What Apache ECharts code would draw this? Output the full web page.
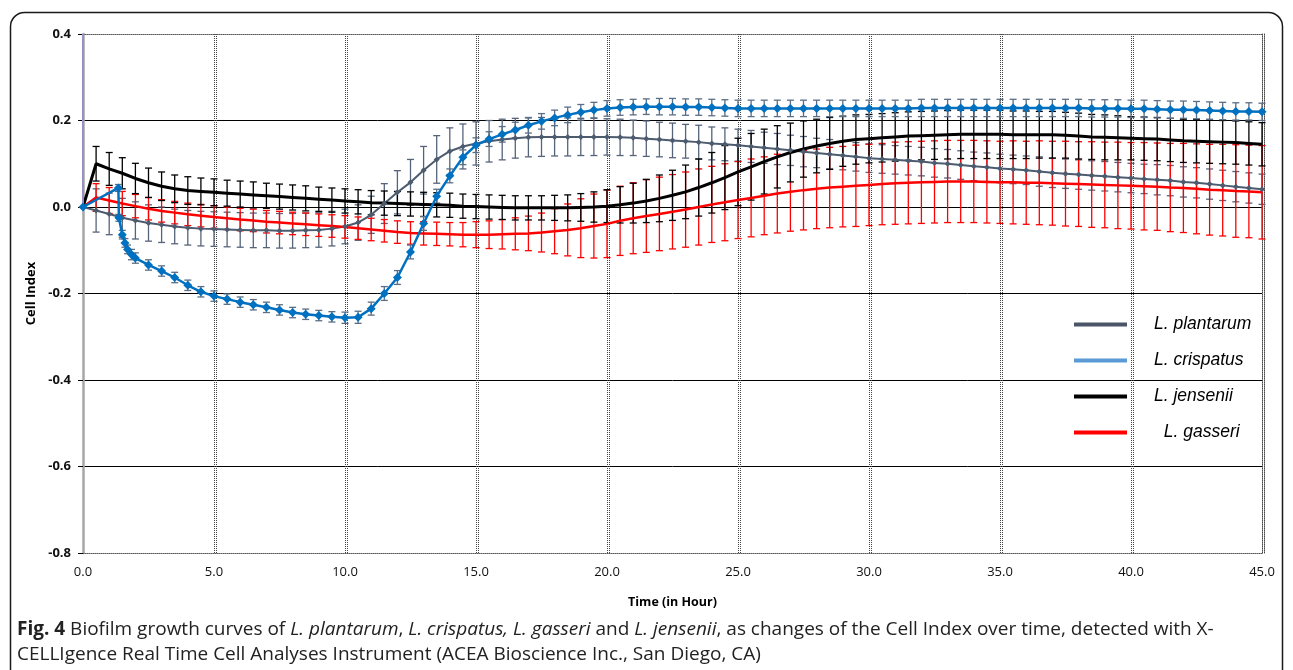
<!DOCTYPE html>
<html>
<head>
<meta charset="utf-8">
<script src="https://cdn.jsdelivr.net/npm/echarts@6/dist/echarts.min.js"></script>
<style>
html,body{margin:0;padding:0;background:#fff;}
#main{width:1293px;height:670px;}
</style>
</head>
<body>
<div id="main"></div>
<script>
// readings every 30 min, 0 - 45 h
var hours = [];
for (var i = 0; i <= 90; i++) { hours.push(i / 2); }

var seriesNames = ['L. plantarum', 'L. crispatus', 'L. jensenii', 'L. gasseri'];

var plantarum = [
	0, -0.008, -0.016, -0.025, -0.031, -0.037, -0.041, -0.045, -0.048, -0.050,
	-0.051, -0.052, -0.053, -0.054, -0.054, -0.055, -0.055, -0.054, -0.053, -0.050,
	-0.045, -0.036, -0.018, 0.008, 0.034, 0.057, 0.085, 0.110, 0.129, 0.140,
	0.147, 0.152, 0.156, 0.159, 0.161, 0.162, 0.162, 0.162, 0.162, 0.162,
	0.162, 0.161, 0.160, 0.158, 0.156, 0.154, 0.152, 0.150, 0.147, 0.145,
	0.143, 0.140, 0.137, 0.134, 0.131, 0.128, 0.125, 0.122, 0.119, 0.116,
	0.113, 0.111, 0.109, 0.107, 0.105, 0.102, 0.100, 0.097, 0.094, 0.092,
	0.089, 0.087, 0.085, 0.082, 0.079, 0.077, 0.075, 0.073, 0.071, 0.069,
	0.067, 0.065, 0.063, 0.061, 0.058, 0.056, 0.053, 0.050, 0.047, 0.044,
	0.041
];
var plantarumErr = [
	0, 0.050, 0.048, 0.045, 0.043, 0.042, 0.041, 0.040, 0.040, 0.040,
	0.040, 0.040, 0.040, 0.040, 0.040, 0.040, 0.040, 0.040, 0.040, 0.040,
	0.040, 0.041, 0.043, 0.046, 0.050, 0.053, 0.055, 0.055, 0.054, 0.052,
	0.050, 0.048, 0.047, 0.046, 0.045, 0.045, 0.044, 0.044, 0.043, 0.043,
	0.042, 0.042, 0.041, 0.041, 0.040, 0.040, 0.039, 0.039, 0.038, 0.038,
	0.037, 0.037, 0.036, 0.036, 0.035, 0.035, 0.034, 0.034, 0.033, 0.033,
	0.033, 0.033, 0.033, 0.033, 0.033, 0.033, 0.033, 0.033, 0.033, 0.033,
	0.033, 0.033, 0.033, 0.034, 0.034, 0.034, 0.034, 0.034, 0.034, 0.034,
	0.034, 0.034, 0.035, 0.035, 0.035, 0.035, 0.035, 0.035, 0.035, 0.035,
	0.035
];

// crispatus: first readings are irregular, then every 30 min from 2.5 h
var crispatusEarlyHours = [0, 1.35, 1.37, 1.5, 1.6, 1.7, 1.85, 2.0];
var crispatusEarly = [0, 0.044, -0.025, -0.064, -0.083, -0.098, -0.110, -0.118];
var crispatusEarlyErr = [0, 0.008, 0.008, 0.010, 0.010, 0.010, 0.012, 0.012];
var crispatus = [
	-0.134, -0.148, -0.163, -0.181, -0.196,
	-0.206, -0.213, -0.220, -0.226, -0.232, -0.238, -0.244, -0.248, -0.251, -0.254,
	-0.256, -0.255, -0.235, -0.200, -0.163, -0.104, -0.038, 0.025, 0.072, 0.115,
	0.143, 0.157, 0.168, 0.178, 0.189, 0.198, 0.206, 0.213, 0.219, 0.224,
	0.228, 0.230, 0.231, 0.232, 0.232, 0.232, 0.231, 0.231, 0.230, 0.229,
	0.228, 0.228, 0.228, 0.228, 0.228, 0.228, 0.228, 0.228, 0.228, 0.228,
	0.228, 0.228, 0.228, 0.228, 0.229, 0.229, 0.229, 0.229, 0.229, 0.229,
	0.229, 0.229, 0.229, 0.229, 0.229, 0.229, 0.229, 0.228, 0.228, 0.228,
	0.227, 0.227, 0.226, 0.225, 0.225, 0.224, 0.223, 0.222, 0.221, 0.221,
	0.220
];
var crispatusErr = [
	0.012, 0.012, 0.012, 0.012, 0.012,
	0.012, 0.012, 0.012, 0.012, 0.012, 0.012, 0.012, 0.012, 0.012, 0.012,
	0.013, 0.014, 0.015, 0.016, 0.016, 0.016, 0.016, 0.016, 0.016, 0.017,
	0.017, 0.017, 0.018, 0.018, 0.018, 0.018, 0.018, 0.018, 0.018, 0.018,
	0.018, 0.018, 0.018, 0.018, 0.019, 0.019, 0.019, 0.019, 0.019, 0.019,
	0.019, 0.019, 0.019, 0.019, 0.019, 0.019, 0.019, 0.019, 0.019, 0.019,
	0.019, 0.019, 0.019, 0.019, 0.020, 0.020, 0.020, 0.020, 0.020, 0.020,
	0.020, 0.020, 0.020, 0.020, 0.020, 0.020, 0.020, 0.020, 0.020, 0.020,
	0.020, 0.020, 0.020, 0.020, 0.020, 0.020, 0.020, 0.020, 0.020, 0.020,
	0.020
];

var jensenii = [
	0, 0.100, 0.088, 0.078, 0.066, 0.056, 0.048, 0.042, 0.038, 0.036,
	0.034, 0.032, 0.030, 0.028, 0.026, 0.024, 0.022, 0.020, 0.018, 0.016,
	0.014, 0.012, 0.010, 0.009, 0.008, 0.007, 0.006, 0.005, 0.004, 0.002,
	0.001, 0.000, -0.001, -0.002, -0.002, -0.002, -0.002, -0.002, -0.001, 0.000,
	0.002, 0.005, 0.009, 0.014, 0.020, 0.027, 0.035, 0.045, 0.056, 0.068,
	0.081, 0.093, 0.105, 0.116, 0.126, 0.134, 0.141, 0.147, 0.152, 0.156,
	0.158, 0.160, 0.162, 0.164, 0.165, 0.166, 0.167, 0.168, 0.168, 0.168,
	0.168, 0.167, 0.167, 0.167, 0.167, 0.166, 0.164, 0.162, 0.161, 0.160,
	0.159, 0.158, 0.157, 0.155, 0.153, 0.152, 0.151, 0.150, 0.149, 0.147,
	0.145
];
var jenseniiErr = [
	0, 0.040, 0.038, 0.036, 0.035, 0.034, 0.033, 0.032, 0.032, 0.031,
	0.031, 0.030, 0.030, 0.030, 0.029, 0.029, 0.029, 0.029, 0.028, 0.028,
	0.028, 0.028, 0.028, 0.028, 0.028, 0.028, 0.028, 0.028, 0.028, 0.028,
	0.028, 0.028, 0.028, 0.028, 0.028, 0.028, 0.029, 0.030, 0.032, 0.035,
	0.038, 0.042, 0.046, 0.050, 0.054, 0.058, 0.062, 0.066, 0.070, 0.074,
	0.078, 0.077, 0.075, 0.072, 0.068, 0.065, 0.062, 0.060, 0.058, 0.057,
	0.056, 0.056, 0.056, 0.056, 0.056, 0.056, 0.056, 0.056, 0.056, 0.056,
	0.056, 0.055, 0.055, 0.054, 0.054, 0.053, 0.053, 0.052, 0.052, 0.051,
	0.050, 0.050, 0.050, 0.050, 0.050, 0.050, 0.050, 0.050, 0.050, 0.050,
	0.050
];

var gasseri = [
	0, 0.022, 0.015, 0.008, 0.002, -0.004, -0.009, -0.013, -0.017, -0.020,
	-0.023, -0.026, -0.029, -0.031, -0.034, -0.036, -0.038, -0.040, -0.042, -0.044,
	-0.046, -0.049, -0.052, -0.055, -0.058, -0.060, -0.061, -0.062, -0.063, -0.064,
	-0.064, -0.064, -0.063, -0.062, -0.061, -0.059, -0.056, -0.053, -0.049, -0.044,
	-0.039, -0.032, -0.026, -0.021, -0.016, -0.011, -0.006, 0.000, 0.006, 0.011,
	0.016, 0.021, 0.026, 0.031, 0.035, 0.039, 0.042, 0.045, 0.047, 0.049,
	0.051, 0.053, 0.055, 0.056, 0.057, 0.058, 0.059, 0.059, 0.059, 0.058,
	0.057, 0.057, 0.056, 0.056, 0.055, 0.054, 0.053, 0.052, 0.051, 0.050,
	0.049, 0.048, 0.047, 0.045, 0.044, 0.042, 0.040, 0.039, 0.037, 0.036,
	0.034
];
var gasseriErr = [
	0, 0.032, 0.030, 0.028, 0.027, 0.026, 0.026, 0.026, 0.026, 0.026,
	0.026, 0.026, 0.026, 0.026, 0.026, 0.026, 0.026, 0.026, 0.026, 0.026,
	0.026, 0.026, 0.026, 0.026, 0.026, 0.026, 0.027, 0.027, 0.027, 0.028,
	0.030, 0.032, 0.034, 0.037, 0.040, 0.045, 0.052, 0.060, 0.068, 0.074,
	0.078, 0.080, 0.082, 0.084, 0.085, 0.086, 0.087, 0.088, 0.088, 0.089,
	0.089, 0.090, 0.090, 0.091, 0.091, 0.092, 0.092, 0.093, 0.093, 0.094,
	0.094, 0.094, 0.095, 0.095, 0.095, 0.095, 0.095, 0.095, 0.095, 0.095,
	0.095, 0.096, 0.096, 0.097, 0.097, 0.098, 0.098, 0.099, 0.099, 0.100,
	0.100, 0.101, 0.101, 0.102, 0.103, 0.104, 0.105, 0.106, 0.107, 0.107,
	0.108
];

// the vertical spike at time 0
var spikeHours = [0, 0];
var spikeValues = [0, 0.4];

//---------------- helpers ----------------
function pairs(xs, ys) {
	var out = [];
	for (var i = 0; i < ys.length; i++) { out.push([xs[i], ys[i]]); }
	return out;
}
function errRows(xs, ys, es) {
	var out = [];
	for (var i = 0; i < ys.length; i++) {
		if (es[i] > 0) { out.push([xs[i], ys[i] - es[i], ys[i] + es[i]]); }
	}
	return out;
}
function errBars(data, color) {
	return {
		type: 'custom',
		data: data,
		encode: { x: 0, y: [1, 2] },
		silent: true,
		renderItem: function (params, api) {
			var top = api.coord([api.value(0), api.value(2)]);
			var bot = api.coord([api.value(0), api.value(1)]);
			var w = 3.5;
			var st = { stroke: color, lineWidth: 1.3 };
			return {
				type: 'group',
				children: [
					{ type: 'line', shape: { x1: top[0], y1: top[1], x2: bot[0], y2: bot[1] }, style: st },
					{ type: 'line', shape: { x1: top[0] - w, y1: top[1], x2: top[0] + w, y2: top[1] }, style: st },
					{ type: 'line', shape: { x1: bot[0] - w, y1: bot[1], x2: bot[0] + w, y2: bot[1] }, style: st }
				]
			};
		}
	};
}

var lateHours = hours.slice(5);
var crispatusPts = pairs(crispatusEarlyHours, crispatusEarly).concat(pairs(lateHours, crispatus));
var crispatusBars = errRows(crispatusEarlyHours, crispatusEarly, crispatusEarlyErr)
	.concat(errRows(lateHours, crispatus, crispatusErr));

var dotted = { color: '#444', width: 1, type: [1, 1], shadowColor: '#444', shadowBlur: 0, shadowOffsetX: 2 };

var chart = echarts.init(document.getElementById('main'));

var option = {
	animation: false,
	backgroundColor: '#fff',
	grid: { left: 83, right: 31, top: 34, bottom: 117, containLabel: false },
	legend: {
		orient: 'vertical',
		left: 1069,
		top: 309,
		icon: 'rect',
		itemWidth: 53,
		itemHeight: 4,
		itemGap: 15,
		selectedMode: false,
		textStyle: { fontFamily: 'Liberation Sans', fontStyle: 'italic', fontSize: 17.5, color: '#000', lineHeight: 21, padding: [0, 0, 0, 22] },
		formatter: function (name) { return name == 'L. gasseri' ? '  ' + name : name; },
		data: [
			{ name: seriesNames[0], itemStyle: { color: '#4a5568' } },
			{ name: seriesNames[1], itemStyle: { color: '#5b9bd5' } },
			{ name: seriesNames[2], itemStyle: { color: '#000' } },
			{ name: seriesNames[3], itemStyle: { color: '#ff0000' } }
		]
	},
	xAxis: [{
		type: 'value',
		min: 0, max: 45, interval: 5,
		name: 'Time (in Hour)',
		nameLocation: 'middle',
		nameGap: 43,
		nameTextStyle: { fontFamily: 'Open Sans', fontWeight: 'bold', fontSize: 12.5, color: '#000' },
		axisLine: { onZero: false, lineStyle: { color: '#555', width: 1, type: [1, 1] } },
		axisTick: { show: false },
		axisLabel: { margin: 13, fontFamily: 'Open Sans', fontSize: 13, color: '#111', formatter: function (v) { return v.toFixed(1); } },
		splitLine: { show: true, showMinLine: false, showMaxLine: false, lineStyle: dotted }
	}, {
		type: 'value', position: 'top', min: 0, max: 45,
		axisLine: { show: true, onZero: false, lineStyle: { color: '#555', width: 1, type: [1, 1] } },
		axisTick: { show: false }, axisLabel: { show: false }, splitLine: { show: false }
	}],
	yAxis: [{
		type: 'value',
		min: -0.8, max: 0.4, interval: 0.2,
		name: 'Cell Index',
		nameLocation: 'middle',
		nameGap: 43,
		nameTextStyle: { fontFamily: 'Open Sans', fontWeight: 'bold', fontSize: 13, color: '#000' },
		axisLine: { show: true, onZero: false, lineStyle: { color: '#a6a6a6', width: 2.5 } },
		axisTick: { show: true, length: 5, lineStyle: { color: '#000' } },
		axisLabel: { margin: 12, fontFamily: 'Open Sans', fontWeight: 'bold', fontSize: 13, color: '#111', formatter: function (v) { return v.toFixed(1); } },
		splitLine: { show: true, showMinLine: false, showMaxLine: false, lineStyle: { color: '#000', width: 1 } }
	}, {
		type: 'value', position: 'right', min: -0.8, max: 0.4,
		axisLine: { show: true, onZero: false, lineStyle: dotted },
		axisTick: { show: false }, axisLabel: { show: false }, splitLine: { show: false }
	}],
	graphic: [{
		type: 'rect',
		z: -10,
		shape: { x: 10.5, y: 12.5, width: 1272, height: 720, r: 14 },
		style: { fill: 'none', stroke: '#1a1a1a', lineWidth: 1.5 }
	}, {
		type: 'text',
		left: 17,
		top: 617,
		style: {
			text: '{b|Fig. 4} Biofilm growth curves of {i|L. plantarum}, {i|L. crispatus, L. gasseri} and {i|L. jensenii}, as changes of the Cell Index over time, detected with X-\nCELLIgence Real Time Cell Analyses Instrument (ACEA Bioscience Inc., San Diego, CA)',
			fontFamily: 'Open Sans',
			fontSize: 19,
			lineHeight: 25,
			fill: '#222',
			rich: {
				b: { fontFamily: 'Open Sans', fontSize: 19, fontWeight: 'bold', lineHeight: 25, fill: '#222' },
				i: { fontFamily: 'Open Sans', fontSize: 19, fontStyle: 'italic', lineHeight: 25, fill: '#222' }
			}
		}
	}],
	series: [
		errBars(errRows(hours, plantarum, plantarumErr), '#56647a'),
		{
			name: seriesNames[0], type: 'line', data: pairs(hours, plantarum),
			symbol: 'diamond', symbolSize: 6, showAllSymbol: true,
			itemStyle: { color: '#4d5b6f' }, lineStyle: { color: '#4d5b6f', width: 2 }
		},
		errBars(errRows(hours, gasseri, gasseriErr), '#ff0000'),
		errBars(errRows(hours, jensenii, jenseniiErr), '#000'),
		{
			name: seriesNames[3], type: 'line', data: pairs(hours, gasseri),
			showSymbol: false, symbol: 'none',
			itemStyle: { color: '#ff0000' }, lineStyle: { color: '#ff0000', width: 2.5 }
		},
		{
			name: seriesNames[2], type: 'line', data: pairs(hours, jensenii),
			showSymbol: false, symbol: 'none',
			itemStyle: { color: '#000' }, lineStyle: { color: '#000', width: 3 }
		},
		errBars(crispatusBars, '#5a6e85'),
		{
			name: seriesNames[1], type: 'line', data: crispatusPts,
			symbol: 'diamond', symbolSize: 9, showAllSymbol: true,
			itemStyle: { color: '#0070c0' }, lineStyle: { color: '#0070c0', width: 2.5 }
		},
		{
			type: 'line', data: pairs(spikeHours, spikeValues), symbol: 'none', silent: true,
			lineStyle: { color: '#9b8fc4', width: 2 }
		}
	]
};

chart.setOption(option);
</script>
</body>
</html>
